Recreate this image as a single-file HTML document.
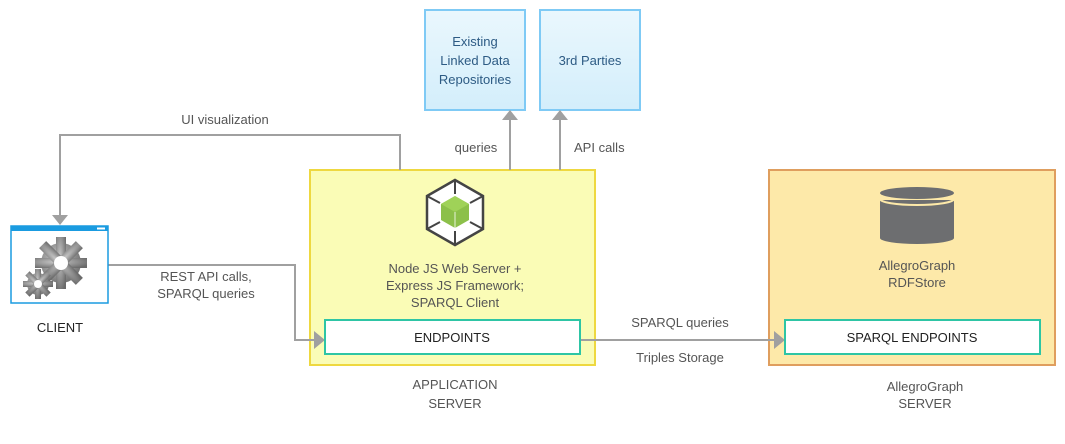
<!DOCTYPE html>
<html><head><meta charset="utf-8"><style>
html,body{margin:0;padding:0;background:#fff;width:1065px;height:444px;overflow:hidden}
text{font-family:"Liberation Sans",sans-serif;font-size:13px;fill:#555}
</style></head><body>
<svg width="1065" height="444" viewBox="0 0 1065 444" xmlns="http://www.w3.org/2000/svg">
<defs>
<linearGradient id="bl" x1="0" y1="0" x2="0" y2="1"><stop offset="0" stop-color="#eaf7fd"/><stop offset="1" stop-color="#d3eefb"/></linearGradient>
<radialGradient id="gr" cx="0.4" cy="0.4" r="0.7"><stop offset="0" stop-color="#c8c8c8"/><stop offset="1" stop-color="#6a6a6a"/></radialGradient>
</defs>
<!-- blue boxes -->
<rect x="425" y="10" width="100" height="100" fill="url(#bl)" stroke="#7fcaf5" stroke-width="2"/>
<rect x="540" y="10" width="100" height="100" fill="url(#bl)" stroke="#7fcaf5" stroke-width="2"/>
<text x="475" y="46" text-anchor="middle" style="fill:#2d5b84">Existing</text>
<text x="475" y="65" text-anchor="middle" style="fill:#2d5b84">Linked Data</text>
<text x="475" y="84" text-anchor="middle" style="fill:#2d5b84">Repositories</text>
<text x="590" y="65" text-anchor="middle" style="fill:#2d5b84">3rd Parties</text>
<!-- app server -->
<rect x="310" y="170" width="285" height="195" fill="#fafcb6" stroke="#eed840" stroke-width="2"/>
<!-- allegro -->
<rect x="769" y="170" width="286" height="195" fill="#fde9a9" stroke="#df9e5e" stroke-width="2"/>
<!-- connectors -->
<g stroke="#a0a0a0" stroke-width="2" fill="none">
<polyline points="400,170 400,135 60,135 60,215"/>
<line x1="510" y1="170" x2="510" y2="120"/>
<line x1="560" y1="170" x2="560" y2="120"/>
<polyline points="108,265 295,265 295,340 315,340"/>
<line x1="580" y1="340" x2="775" y2="340"/>
</g>
<g fill="#a0a0a0">
<polygon points="52,215 68,215 60,225"/>
<polygon points="502,120 518,120 510,110"/>
<polygon points="552,120 568,120 560,110"/>
<polygon points="314,331 314,349 325,340"/>
<polygon points="774,331 774,349 785,340"/>
</g>
<text x="225" y="124" text-anchor="middle">UI visualization</text>
<text x="476" y="152" text-anchor="middle">queries</text>
<text x="574" y="152">API calls</text>
<text x="206" y="281" text-anchor="middle">REST API calls,</text>
<text x="206" y="298" text-anchor="middle">SPARQL queries</text>
<text x="680" y="327" text-anchor="middle">SPARQL queries</text>
<text x="680" y="362" text-anchor="middle">Triples Storage</text>
<!-- client -->
<rect x="11" y="226" width="97" height="77" fill="#fff" stroke="#1a9be0" stroke-width="1.5"/>
<rect x="11" y="226" width="97" height="5" fill="#1a9be0"/>
<rect x="97" y="227.5" width="8" height="2" fill="#fff"/>
<g fill="url(#gr)">
<circle cx="61" cy="263" r="20"/>
<g transform="translate(61,263)"><rect x="-5" y="-26" width="10" height="52"/><rect x="-26" y="-5" width="52" height="10"/><rect x="-5" y="-26" width="10" height="52" transform="rotate(45)"/><rect x="-5" y="-26" width="10" height="52" transform="rotate(-45)"/></g>
<circle cx="38" cy="284" r="11"/>
<g transform="translate(38,284)"><rect x="-3" y="-15" width="6" height="30"/><rect x="-15" y="-3" width="30" height="6"/><rect x="-3" y="-15" width="6" height="30" transform="rotate(45)"/><rect x="-3" y="-15" width="6" height="30" transform="rotate(-45)"/></g>
</g>
<circle cx="61" cy="263" r="7" fill="#fff"/>
<circle cx="38" cy="284" r="4" fill="#fff"/>
<text x="60" y="332" text-anchor="middle" style="fill:#222">CLIENT</text>
<!-- node cube -->
<polygon points="455,180 483,196 483,229 455,245 427,229 427,196" fill="#fff" stroke="#444" stroke-width="2.5"/>
<g stroke="#444" stroke-width="2"><line x1="455" y1="180" x2="455" y2="194"/><line x1="427" y1="196" x2="440" y2="203"/><line x1="483" y1="196" x2="470" y2="203"/><line x1="455" y1="245" x2="455" y2="231"/><line x1="427" y1="229" x2="440" y2="222"/><line x1="483" y1="229" x2="470" y2="222"/></g>
<polygon points="455,196 469,204 469,220 455,228 441,220 441,204" fill="#8cc04a"/>
<polygon points="455,196 469,204 455,212 441,204" fill="#9fd258"/>
<line x1="455" y1="212" x2="455" y2="228" stroke="#fff" stroke-width="0.8"/>
<text x="455" y="273" text-anchor="middle">Node JS Web Server +</text>
<text x="455" y="290" text-anchor="middle">Express JS Framework;</text>
<text x="455" y="307" text-anchor="middle">SPARQL Client</text>
<rect x="325" y="320" width="255" height="34" fill="#fff" stroke="#2ec5a5" stroke-width="2"/>
<text x="452" y="342" text-anchor="middle" style="fill:#222">ENDPOINTS</text>
<text x="455" y="389" text-anchor="middle">APPLICATION</text>
<text x="455" y="408" text-anchor="middle">SERVER</text>
<!-- cylinder -->
<path d="M880,200 v38 a37,6 0 0 0 74,0 v-38" fill="#6d6e70"/>
<ellipse cx="917" cy="193" rx="37" ry="6" fill="#6d6e70"/>
<path d="M880,199 a37,6 0 0 0 74,0" fill="none" stroke="#fde9a9" stroke-width="2"/>
<text x="917" y="270" text-anchor="middle">AllegroGraph</text>
<text x="917" y="287" text-anchor="middle">RDFStore</text>
<rect x="785" y="320" width="255" height="34" fill="#fff" stroke="#2ec5a5" stroke-width="2"/>
<text x="912" y="342" text-anchor="middle" style="fill:#222">SPARQL ENDPOINTS</text>
<text x="925" y="391" text-anchor="middle">AllegroGraph</text>
<text x="925" y="408" text-anchor="middle">SERVER</text>
</svg>
</body></html>
